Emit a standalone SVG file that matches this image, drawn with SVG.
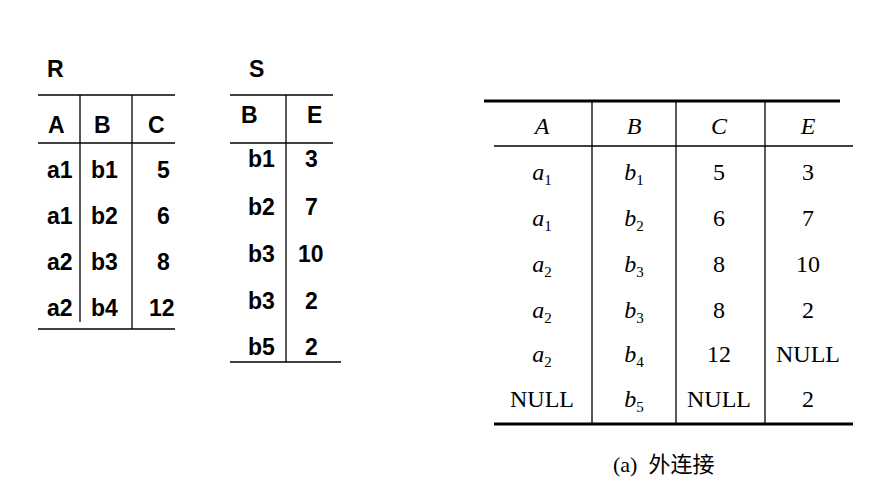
<svg xmlns="http://www.w3.org/2000/svg" width="889" height="488" viewBox="0 0 889 488">
<style>
.b{font-family:"Liberation Sans",Arial,sans-serif;font-weight:bold;font-size:23px;fill:#000}
.t{font-family:"Liberation Serif","Times New Roman",serif;font-size:24px;fill:#000;text-anchor:middle}
.i{font-style:italic}
.sub{font-size:15px;font-style:normal}
line{stroke:#000;stroke-width:1.3}
.k{stroke-width:3}
.c{font-family:"Liberation Serif","Noto Sans CJK SC",serif;font-size:22px;fill:#000}
</style>
<rect width="889" height="488" fill="#fff"/>
<g id="tableR">
<text class="b" x="47" y="77">R</text>
<line x1="38" y1="95" x2="175" y2="95"/>
<line x1="38" y1="143" x2="175" y2="143"/>
<line x1="38" y1="329" x2="175" y2="329"/>
<line x1="80" y1="95" x2="80" y2="322"/>
<line x1="132" y1="95" x2="132" y2="329"/>
<text class="b" x="48" y="133">A</text><text class="b" x="94" y="133">B</text><text class="b" x="148" y="133">C</text>
<text class="b" x="47" y="178">a1</text><text class="b" x="91" y="178">b1</text><text class="b" x="157" y="178">5</text>
<text class="b" x="47" y="224">a1</text><text class="b" x="91" y="224">b2</text><text class="b" x="157" y="224">6</text>
<text class="b" x="47" y="270">a2</text><text class="b" x="91" y="270">b3</text><text class="b" x="157" y="270">8</text>
<text class="b" x="47" y="316">a2</text><text class="b" x="91" y="316">b4</text><text class="b" x="149" y="316">12</text>
</g>
<g id="tableS">
<text class="b" x="249" y="77">S</text>
<line x1="230" y1="95" x2="333" y2="95"/>
<line x1="230" y1="143" x2="333" y2="143"/>
<line x1="230" y1="362" x2="341" y2="362"/>
<line x1="286" y1="95" x2="286" y2="362"/>
<text class="b" x="241" y="123">B</text><text class="b" x="307" y="123">E</text>
<text class="b" x="248" y="167">b1</text><text class="b" x="305" y="167">3</text>
<text class="b" x="248" y="215">b2</text><text class="b" x="305" y="215">7</text>
<text class="b" x="248" y="262">b3</text><text class="b" x="298" y="262">10</text>
<text class="b" x="248" y="309">b3</text><text class="b" x="305" y="309">2</text>
<text class="b" x="248" y="355">b5</text><text class="b" x="305" y="355">2</text>
</g>
<g id="tableJoin">
<line class="k" x1="484" y1="101" x2="840" y2="101"/>
<line x1="494" y1="146" x2="853" y2="146"/>
<line class="k" x1="494" y1="424" x2="853" y2="424"/>
<line x1="592" y1="101" x2="592" y2="424"/>
<line x1="676" y1="101" x2="676" y2="424"/>
<line x1="765" y1="101" x2="765" y2="424"/>
<text class="t i" x="542" y="134">A</text><text class="t i" x="634" y="134">B</text><text class="t i" x="719" y="134">C</text><text class="t i" x="808" y="134">E</text>
<text class="t" x="542" y="180"><tspan class="i">a</tspan><tspan class="sub" dy="5">1</tspan></text><text class="t" x="634" y="180"><tspan class="i">b</tspan><tspan class="sub" dy="5">1</tspan></text><text class="t" x="719" y="180">5</text><text class="t" x="808" y="180">3</text>
<text class="t" x="542" y="226"><tspan class="i">a</tspan><tspan class="sub" dy="5">1</tspan></text><text class="t" x="634" y="226"><tspan class="i">b</tspan><tspan class="sub" dy="5">2</tspan></text><text class="t" x="719" y="226">6</text><text class="t" x="808" y="226">7</text>
<text class="t" x="542" y="272"><tspan class="i">a</tspan><tspan class="sub" dy="5">2</tspan></text><text class="t" x="634" y="272"><tspan class="i">b</tspan><tspan class="sub" dy="5">3</tspan></text><text class="t" x="719" y="272">8</text><text class="t" x="808" y="272">10</text>
<text class="t" x="542" y="318"><tspan class="i">a</tspan><tspan class="sub" dy="5">2</tspan></text><text class="t" x="634" y="318"><tspan class="i">b</tspan><tspan class="sub" dy="5">3</tspan></text><text class="t" x="719" y="318">8</text><text class="t" x="808" y="318">2</text>
<text class="t" x="542" y="362"><tspan class="i">a</tspan><tspan class="sub" dy="5">2</tspan></text><text class="t" x="634" y="362"><tspan class="i">b</tspan><tspan class="sub" dy="5">4</tspan></text><text class="t" x="719" y="362">12</text><text class="t" x="808" y="362">NULL</text>
<text class="t" x="542" y="407">NULL</text><text class="t" x="634" y="407"><tspan class="i">b</tspan><tspan class="sub" dy="5">5</tspan></text><text class="t" x="719" y="407">NULL</text><text class="t" x="808" y="407">2</text>
<text class="c" x="613" y="472" xml:space="preserve">(a)  外连接</text>
</g>
</svg>
